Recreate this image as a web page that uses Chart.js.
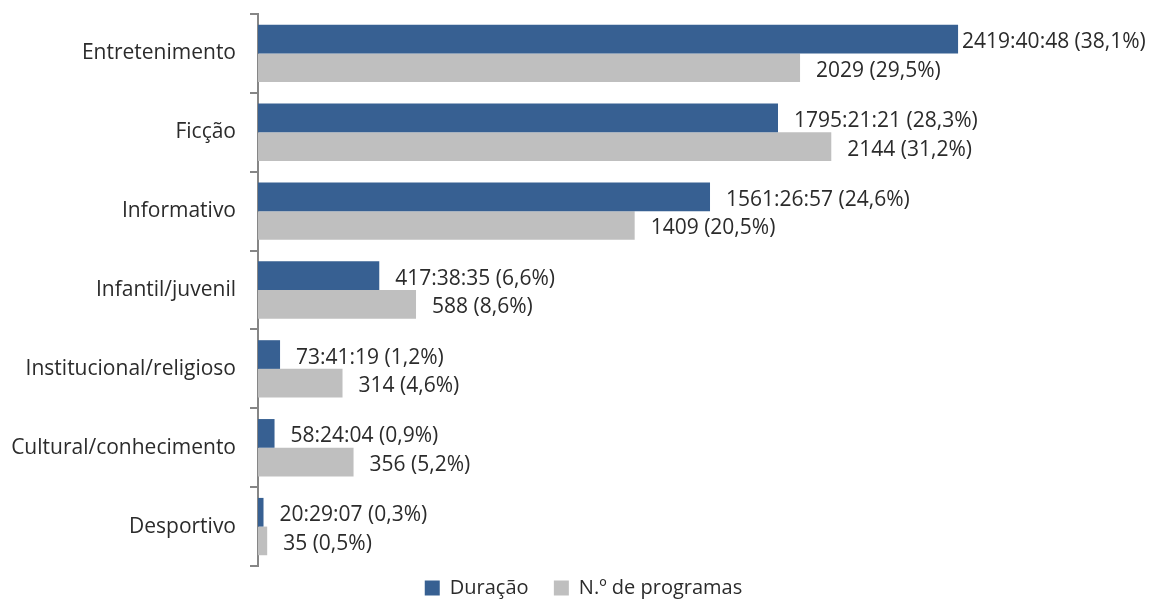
<!DOCTYPE html>
<html>
<head>
<meta charset="utf-8">
<script src="https://cdn.jsdelivr.net/npm/chart.js@4"></script>
<style>
    html, body { margin: 0; padding: 0; background: #fff; }
    #wrap { width: 1151px; height: 599px; }
</style>
</head>
<body>
<div id="wrap"><canvas id="genreChart"></canvas></div>
<script>
const categories = ['Entretenimento', 'Ficção', 'Informativo', 'Infantil/juvenil', 'Institucional/religioso', 'Cultural/conhecimento', 'Desportivo'];
const durationPct = [38.1, 28.3, 24.6, 6.6, 1.2, 0.9, 0.3];
const durationText = ['2419:40:48', '1795:21:21', '1561:26:57', '417:38:35', '73:41:19', '58:24:04', '20:29:07'];
const programPct = [29.5, 31.2, 20.5, 8.6, 4.6, 5.2, 0.5];
const programCount = [2029, 2144, 1409, 588, 314, 356, 35];

const FONT = '"Open Sans", Lato, sans-serif';
const TEXT = '#2b2b2b';

function pctLabel(v) {
    return '(' + v.toFixed(1).replace('.', ',') + '%)';
}

// value labels to the right of each bar
const barLabels = {
    id: 'barLabels',
    afterLayout: function (chart) {
        // legend sits a bit right of centre in the original
        chart.legend.left += 16;
    },
    afterDatasetsDraw: function (chart) {
        const ctx = chart.ctx;
        ctx.save();
        ctx.font = '21px ' + FONT;
        ctx.fillStyle = TEXT;
        ctx.textBaseline = 'middle';
        chart.data.datasets.forEach(function (ds, di) {
            const meta = chart.getDatasetMeta(di);
            meta.data.forEach(function (bar, i) {
                const text = ds.labelText[i] + ' ' + pctLabel(ds.data[i]);
                const w = ctx.measureText(text).width;
                let x = bar.x + 16;
                if (x + w > chart.width - 2) x = bar.x + 4;
                ctx.fillText(text, x, bar.y + 3);
            });
        });
        ctx.restore();
    }
};

const ctx = document.getElementById('genreChart').getContext('2d');
new Chart(ctx, {
    type: 'bar',
    data: {
        labels: categories,
        datasets: [
            {
                label: 'Duração',
                data: durationPct,
                labelText: durationText,
                backgroundColor: '#376092',
                categoryPercentage: 0.727,
                barPercentage: 1
            },
            {
                label: 'N.º de programas',
                data: programPct,
                labelText: programCount,
                backgroundColor: '#bfbfbf',
                categoryPercentage: 0.727,
                barPercentage: 1
            }
        ]
    },
    options: {
        indexAxis: 'y',
        responsive: true,
        maintainAspectRatio: false,
        animation: false,
        layout: { padding: { top: 14, right: 0, left: 0, bottom: -9 } },
        plugins: {
            legend: {
                position: 'bottom',
                labels: {
                    font: { size: 20, family: FONT },
                    color: TEXT,
                    boxWidth: 15,
                    boxHeight: 15,
                    padding: 12,
                    generateLabels: function (chart) {
                        const items = Chart.defaults.plugins.legend.labels.generateLabels(chart);
                        items.forEach(function (item, i) {
                            if (i < items.length - 1) item.text += '\u2002\u2009';
                        });
                        return items;
                    }
                }
            },
            tooltip: { enabled: false }
        },
        scales: {
            x: {
                display: false,
                min: 0,
                max: 48.6
            },
            y: {
                afterFit: function (scale) {
                    scale.width = 258;
                    scale.paddingTop = 0;
                    scale.paddingBottom = 0;
                },
                border: { display: true, color: '#868686', width: 2 },
                grid: {
                    drawOnChartArea: false,
                    offset: true,
                    tickLength: 8,
                    color: '#868686',
                    lineWidth: 2
                },
                ticks: {
                    font: { size: 21, family: FONT },
                    color: TEXT,
                    padding: 14
                }
            }
        }
    },
    plugins: [barLabels]
});
</script>
</body>
</html>
